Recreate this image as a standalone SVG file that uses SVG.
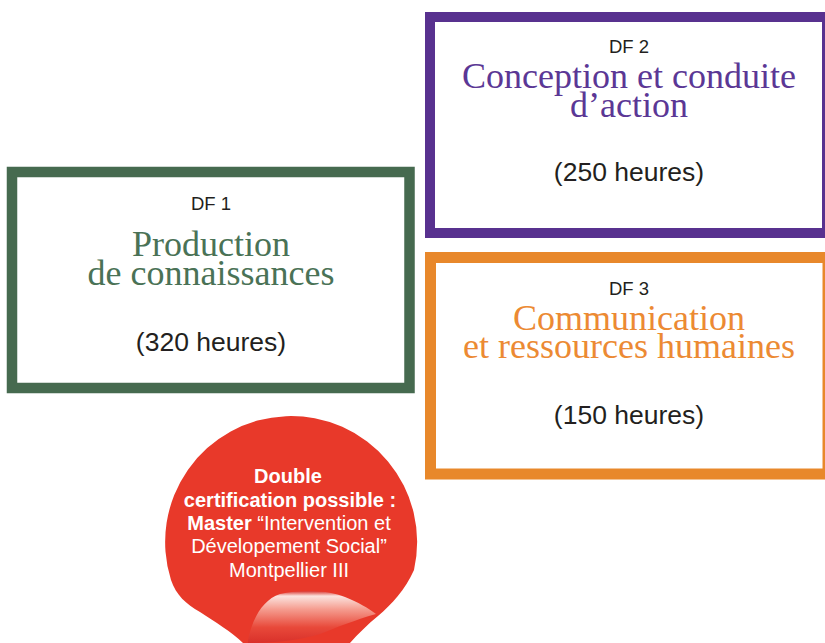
<svg xmlns="http://www.w3.org/2000/svg" width="825" height="643" viewBox="0 0 825 643">
<defs>
<style>
.box{fill:#ffffff}
.lab{font-family:"Liberation Sans",Arial,sans-serif;font-size:18.5px;fill:#231f20;text-anchor:middle}
.hrs{font-family:"Liberation Sans",Arial,sans-serif;font-size:26.5px;fill:#231f20;text-anchor:middle}
.ttl{font-family:"Liberation Serif","Times New Roman",serif;font-size:36px;text-anchor:middle}
.stk{font-family:"Liberation Sans",Arial,sans-serif;font-size:20px;fill:#ffffff;text-anchor:middle}
.b{font-weight:bold}
</style>
<linearGradient id="curl" x1="0" y1="0" x2="0" y2="1">
<stop offset="0" stop-color="#d8302a"/>
<stop offset="0.1" stop-color="#fbe4df"/>
<stop offset="0.35" stop-color="#f59d90"/>
<stop offset="0.7" stop-color="#e8493a"/>
<stop offset="1" stop-color="#d9302a"/>
</linearGradient>
</defs>
<rect width="825" height="643" fill="#ffffff"/>
<g id="df1">
<rect class="box" x="12" y="172" width="397.5" height="216" fill="none" stroke="#466a4f" stroke-width="10.5"/>
<text class="lab" x="211" y="210">DF 1</text>
<text class="ttl" x="211" y="256" fill="#4a7256">Production</text>
<text class="ttl" x="211" y="285" fill="#4a7256">de connaissances</text>
<text class="hrs" x="211" y="351">(320 heures)</text>
</g>
<g id="df2">
<rect class="box" x="430" y="17" width="397" height="216" stroke="#58318f" stroke-width="10"/>
<text class="lab" x="629" y="53">DF 2</text>
<text class="ttl" x="629" y="88" fill="#5b3795">Conception et conduite</text>
<text class="ttl" x="629" y="117" fill="#5b3795">d’action</text>
<text class="hrs" x="629" y="181">(250 heures)</text>
</g>
<g id="df3">
<rect class="box" x="430.5" y="257.5" width="397.5" height="216.5" stroke="#e8882b" stroke-width="11"/>
<text class="lab" x="629" y="295">DF 3</text>
<text class="ttl" x="629" y="330" fill="#ec8a33">Communication</text>
<text class="ttl" x="629" y="358" fill="#ec8a33">et ressources humaines</text>
<text class="hrs" x="629" y="424">(150 heures)</text>
</g>
<g id="sticker">
<path d="M414,570 A126,126 0 1 0 171,580 C176,595 186,604 200,612 C215,622 232,632 243,643 L350,643 C358,634 368,624 378,616 C392,604 405,590 414,570 Z" fill="#e8392a"/>
<path d="M248,640 C252,620 262,600 280,594 C300,589 330,590 345,597 C358,602 368,608 376,614 C355,620 335,628 320,634 C300,640 275,643 248,643 Z" fill="url(#curl)"/>
<text class="stk b" x="288" y="483">Double</text>
<text class="stk b" x="290" y="507">certification possible :</text>
<text class="stk" x="289" y="530"><tspan class="b">Master</tspan> “Intervention et</text>
<text class="stk" x="289" y="553">Dévelopement Social”</text>
<text class="stk" x="289" y="577">Montpellier III</text>
</g>
<g id="connectors"></g>
</svg>
